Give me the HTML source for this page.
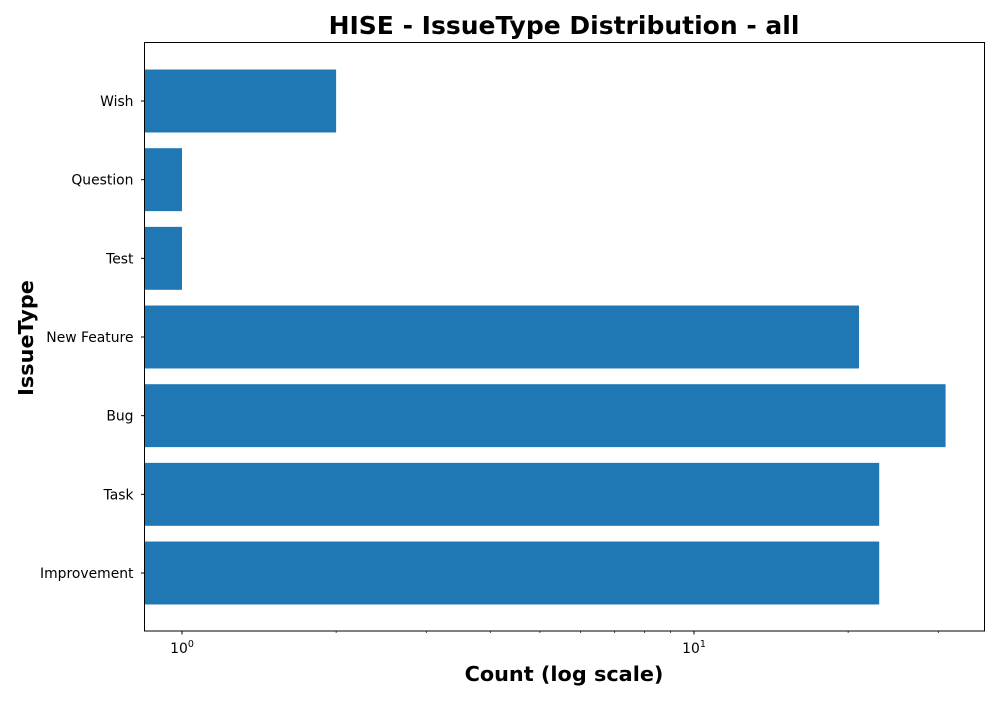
<!DOCTYPE html>
<html><head><meta charset="utf-8"><style>
body{margin:0;background:#fff;}
svg{font-family:"DejaVu Sans","Liberation Sans",sans-serif;}
</style></head><body>
<svg id="chart" width="1000" height="700" viewBox="0 0 1000 700">
<text x="564" y="34" font-size="25" font-weight="bold" text-anchor="middle">HISE - IssueType Distribution - all</text>
<text x="564" y="681" font-size="20.8" font-weight="bold" text-anchor="middle">Count (log scale)</text>
<text transform="translate(33,338) rotate(-90)" font-size="20.8" font-weight="bold" text-anchor="middle">IssueType</text>
<g id="bars"></g>
<g id="axes"></g>
<rect x="144.5" y="42.5" width="840" height="588.5" fill="none" stroke="#000" stroke-width="1"/>
</svg>
<script>
const categories = ["Improvement","Task","Bug","New Feature","Test","Question","Wish"];
const counts = [23, 23, 31, 21, 1, 1, 2];
const majorTicks = [1, 10];
const majorLabels = ["0", "1"];
const minorTicks = [2,3,4,5,6,7,8,9,20,30];

const NS="http://www.w3.org/2000/svg";
const L=144.5,R=985,T=42.5,B=631;
function x(v){return 182 + (Math.log10(v))*512;}
const y0=573, step=(573-101)/6;
function y(i){return y0 - i*step;}
const barH=0.8*step;
const bars=document.getElementById('bars'), axes=document.getElementById('axes');
function mk(tag,attrs,parent){const e=document.createElementNS(NS,tag);for(const k in attrs)e.setAttribute(k,attrs[k]);parent.appendChild(e);return e;}
categories.forEach((c,i)=>{
  const r=mk('rect',{x:L,y:y(i)-barH/2,width:Math.max(0,x(counts[i])-L),height:barH,fill:'#1f77b4'},bars);
  
  
  mk('line',{x1:L-3.5,x2:L,y1:y(i),y2:y(i),stroke:'#000'},axes);
  const t=mk('text',{x:L-11,y:y(i)+5,'font-size':13.9,'text-anchor':'end'},axes);
  t.textContent=c;
  
  
});
majorTicks.forEach((v,i)=>{
  const px=x(v);
  mk('line',{x1:px,x2:px,y1:B,y2:B+3.5,stroke:'#000'},axes);
  const t=mk('text',{x:px,y:B+22,'font-size':13.9,'text-anchor':'middle'},axes);
  t.innerHTML='10<tspan dy="-6" font-size="9.5">'+majorLabels[i]+'</tspan>';
  
  
});
minorTicks.forEach(v=>{
  const px=x(v);
  if(px>L&&px<R) mk('line',{x1:px,x2:px,y1:B,y2:B+2,stroke:'#000','stroke-width':0.7},axes);
});
</script>
</body></html>
